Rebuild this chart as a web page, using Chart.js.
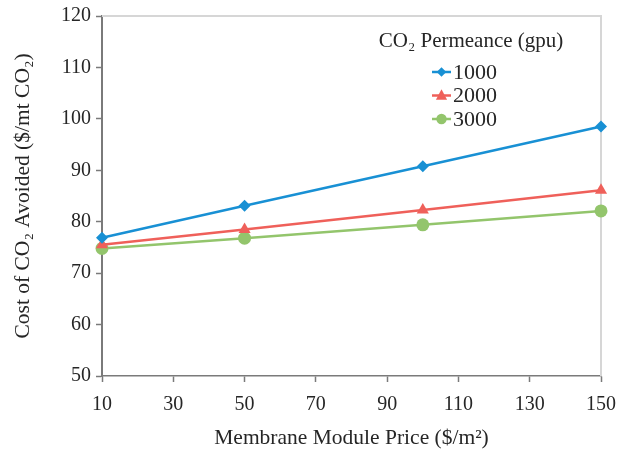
<!DOCTYPE html>
<html>
<head>
<meta charset="utf-8">
<script src="https://cdn.jsdelivr.net/npm/chart.js@4.4.0/dist/chart.umd.min.js"></script>
<style>
    html, body { margin: 0; padding: 0; background: #fff; }
</style>
</head>
<body>
<canvas id="chartCost" width="618" height="451"></canvas>
<script>
// values
var modulePrices = [10, 50, 100, 150];
var cost1000 = [76.9, 83.1, 90.8, 98.5];
var cost2000 = [75.5, 78.5, 82.3, 86.1];
var cost3000 = [74.8, 76.8, 79.4, 82.1];
var permeanceLabels = ['1000', '2000', '3000'];
var legendTitle = 'CO\u2082 Permeance (gpu)';
var xTitle = 'Membrane Module Price ($/m\u00B2)';
var yTitle = 'Cost of CO\u2082 Avoided ($/mt CO\u2082)';

var serif = "'Liberation Serif', 'Times New Roman', serif";
var axisColor = '#7a7a7a';
var textColor = '#262626';

var toPoints = function (values) {
    return modulePrices.map(function (x, i) { return { x: x, y: values[i] }; });
};

var drawMarker = function (ctx, style, x, y, r) {
    ctx.beginPath();
    if (style === 'rectRot') {
        ctx.moveTo(x, y - r);
        ctx.lineTo(x + r, y);
        ctx.lineTo(x, y + r);
        ctx.lineTo(x - r, y);
        ctx.closePath();
    } else if (style === 'triangle') {
        ctx.moveTo(x, y - r * 1.1);
        ctx.lineTo(x + r, y + r * 0.75);
        ctx.lineTo(x - r, y + r * 0.75);
        ctx.closePath();
    } else {
        ctx.arc(x, y, r, 0, Math.PI * 2);
    }
    ctx.fill();
};

// light grey frame on the top and right of the plot
var framePlugin = {
    id: 'frame',
    beforeDatasetsDraw: function (chart) {
        var a = chart.chartArea, ctx = chart.ctx;
        ctx.save();
        ctx.strokeStyle = '#d6d6d6';
        ctx.lineWidth = 2;
        ctx.beginPath();
        ctx.moveTo(a.left, a.top);
        ctx.lineTo(a.right, a.top);
        ctx.lineTo(a.right, a.bottom);
        ctx.stroke();
        ctx.restore();
    }
};

// legend with line + marker like the original
var lineLegend = {
    id: 'lineLegend',
    afterDraw: function (chart, args, opts) {
        var ctx = chart.ctx;
        ctx.save();
        ctx.fillStyle = textColor;
        ctx.font = '21px ' + serif;
        ctx.textAlign = 'center';
        ctx.textBaseline = 'middle';
        ctx.fillText(legendTitle, opts.titleX, opts.titleY);
        ctx.textAlign = 'left';
        ctx.font = '22px ' + serif;
        chart.data.datasets.forEach(function (ds, i) {
            var y = opts.itemY + i * opts.itemGap;
            ctx.strokeStyle = ds.borderColor;
            ctx.fillStyle = ds.borderColor;
            ctx.lineWidth = 2.5;
            ctx.beginPath();
            ctx.moveTo(opts.lineX, y);
            ctx.lineTo(opts.lineX + 19, y);
            ctx.stroke();
            drawMarker(ctx, ds.pointStyle, opts.lineX + 9.5, y, ds.pointRadius * 0.8);
            ctx.fillStyle = textColor;
            ctx.fillText(ds.label, opts.lineX + 21, y + 1);
        });
        ctx.restore();
    }
};

var seriesColors = ['#1890d4', '#ef605a', '#93c56c'];
var seriesStyles = ['rectRot', 'triangle', 'circle'];
var seriesRadius = [6, 7, 6.5];
var seriesValues = [cost1000, cost2000, cost3000];

var datasets = [];
for (var i = 0; i < seriesValues.length; i++) {
    datasets.push({
        label: permeanceLabels[i],
        data: toPoints(seriesValues[i]),
        borderColor: seriesColors[i],
        backgroundColor: seriesColors[i],
        pointBackgroundColor: seriesColors[i],
        pointBorderColor: seriesColors[i],
        borderWidth: 2.5,
        pointStyle: seriesStyles[i],
        pointRadius: seriesRadius[i],
        pointBorderWidth: 0,
        tension: 0,
        clip: false
    });
}

var ctx = document.getElementById('chartCost');
var myChart = new Chart(ctx, {
    type: 'line',
    data: { datasets: datasets },
    plugins: [framePlugin, lineLegend],
    options: {
        responsive: false,
        devicePixelRatio: 1,
        animation: false,
        layout: { padding: { top: 16, right: 17, left: 0, bottom: 0 } },
        plugins: {
            legend: { display: false },
            tooltip: { enabled: false },
            lineLegend: { titleX: 471, titleY: 41, lineX: 432, itemY: 72, itemGap: 23.5 }
        },
        scales: {
            x: {
                type: 'linear',
                min: 10,
                max: 150,
                ticks: { stepSize: 20, color: textColor, font: { family: serif, size: 20 }, padding: 11, maxRotation: 0 },
                grid: { drawOnChartArea: false, drawTicks: true, tickLength: 6, tickColor: axisColor, tickWidth: 1.5 },
                border: { color: axisColor, width: 1.5 },
                title: { display: true, text: xTitle, color: textColor, font: { family: serif, size: 21.5 }, padding: { top: 0, bottom: 0 } },
                afterFit: function (scale) {
                    scale.height = 75;
                    scale.paddingLeft = 0;
                    scale.paddingRight = 0;
                }
            },
            y: {
                min: 50,
                max: 120,
                ticks: { stepSize: 10, color: textColor, font: { family: serif, size: 20 }, padding: 5 },
                grid: { drawOnChartArea: false, drawTicks: true, tickLength: 6, tickColor: axisColor, tickWidth: 1.5 },
                border: { color: axisColor, width: 2 },
                title: { display: true, text: yTitle, color: textColor, font: { family: serif, size: 21.5 }, padding: { top: 10, bottom: 0 } },
                afterFit: function (scale) {
                    scale.width = 102;
                    scale.paddingTop = 0;
                    scale.paddingBottom = 0;
                }
            }
        }
    }
});
</script>
</body>
</html>
